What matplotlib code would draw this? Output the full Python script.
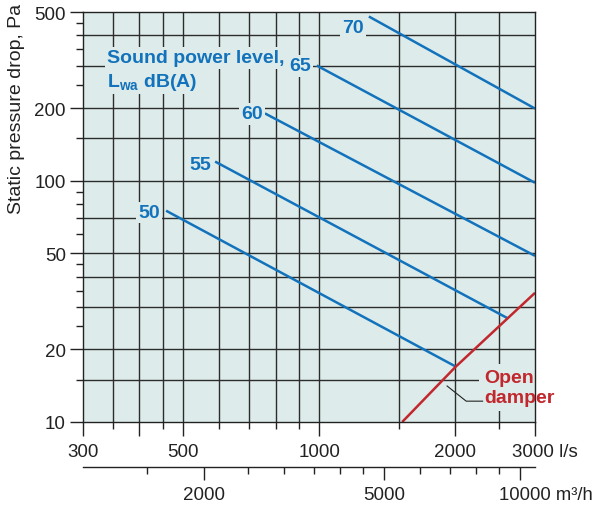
import matplotlib
matplotlib.use('Agg')
import matplotlib.pyplot as plt
from matplotlib.ticker import FixedLocator, FixedFormatter, NullFormatter
from matplotlib.patches import Rectangle

plt.rcParams['font.family'] = ['Liberation Sans', 'DejaVu Sans']
plt.rcParams['mathtext.fontset'] = 'custom'
plt.rcParams['mathtext.rm'] = 'Liberation Sans'
plt.rcParams['mathtext.bf'] = 'Liberation Sans:bold'
plt.rcParams['mathtext.it'] = 'Liberation Sans:italic'

# ---------------- data ----------------
sound_levels = [50, 55, 60, 65, 70]
sound_start_flow = [458, 588, 758, 987, 1287]      # l/s
sound_start_pa = [75.1, 120, 190, 300, 479]         # Pa
sound_end_flow = [2000, 2601, 3000, 3000, 3000]     # l/s
sound_end_pa = [17.0, 27.0, 48.8, 98, 199]          # Pa

damper_flow = [1525, 2000, 3000]                    # l/s
damper_pa = [10, 16.9, 34.3]                        # Pa

x_major = [300, 400, 500, 1000, 2000, 3000]
x_major_labels = ['300', '', '500', '1000', '2000', '']
x_last_label = '3000 l/s'
x_minor = [350, 450, 600, 700, 800, 900, 1500, 2500]
y_major = [10, 20, 50, 100, 200, 500]
y_major_labels = ['10', '20', '50', '100', '200', '500']
y_minor = [15, 25, 30, 35, 40, 45, 60, 70, 80, 90, 150, 250, 300, 350, 400, 450]
x_grid = [350, 400, 450, 500, 600, 700, 800, 900, 1000, 1500, 2000, 2500]
y_grid = [15, 20, 30, 40, 50, 70, 100, 150, 200, 300, 400]
m3h_major = [2000, 5000, 10000]
m3h_major_labels = ['2000', '5000', '']
m3h_last_label = '10000 m³/h'
m3h_minor = [1500, 2500, 3000, 3500, 4000, 4500, 6000, 7000, 8000, 9000]

# label placement (x in l/s, baseline y in Pa)
level_label_x = [420, 545, 710, 906, 1188]
level_label_y = [70.6, 112, 181, 287, 414]

# ---------------- style ----------------
BG = '#ddecea'
BLUE = '#1272bb'
RED = '#c1272d'
GRID = '#2c2c2c'
FS = 13.5

fig = plt.figure(figsize=(5.95, 5.06), dpi=100)
ax = fig.add_axes([83/595, 83/506, 452/595, 410/506])
ax.set_xscale('log')
ax.set_yscale('log')
ax.set_xlim(300, 3000)
ax.set_ylim(10, 500)
ax.set_facecolor(BG)

for gx in x_grid:
    ax.axvline(gx, color=GRID, lw=1.0, zorder=0.5)
for gy in y_grid:
    ax.axhline(gy, color=GRID, lw=1.0, zorder=0.5)

for s in ax.spines.values():
    s.set_color('#222222')
    s.set_linewidth(1.0)

ax.xaxis.set_major_locator(FixedLocator(x_major))
ax.xaxis.set_major_formatter(FixedFormatter(x_major_labels))
ax.xaxis.set_minor_locator(FixedLocator(x_minor))
ax.xaxis.set_minor_formatter(NullFormatter())
ax.yaxis.set_major_locator(FixedLocator(y_major))
ax.yaxis.set_major_formatter(FixedFormatter(y_major_labels))
ax.yaxis.set_minor_locator(FixedLocator(y_minor))
ax.yaxis.set_minor_formatter(NullFormatter())

ax.tick_params(axis='x', which='major', direction='out', length=10, width=1.0,
               pad=5, labelsize=FS, color='#222222', labelcolor='#222222')
ax.tick_params(axis='x', which='minor', direction='out', length=5, width=1.0,
               color='#222222')
ax.tick_params(axis='y', which='major', direction='out', length=9.4, width=1.0,
               pad=3, labelsize=FS, color='#222222', labelcolor='#222222')
ax.tick_params(axis='y', which='minor', direction='out', length=4.8, width=1.0,
               color='#222222')
ax.tick_params(top=False, right=False, which='both')

# secondary axis (m3/h)
sec = ax.secondary_xaxis(-45/410, functions=(lambda q: q * 3.6, lambda q: q / 3.6))
sec.xaxis.set_major_locator(FixedLocator(m3h_major))
sec.xaxis.set_major_formatter(FixedFormatter(m3h_major_labels))
sec.xaxis.set_minor_locator(FixedLocator(m3h_minor))
sec.xaxis.set_minor_formatter(NullFormatter())
sec.tick_params(axis='x', which='major', direction='out', length=9.4, width=1.0,
                pad=4.5, labelsize=FS, color='#222222', labelcolor='#222222')
sec.tick_params(axis='x', which='minor', direction='out', length=5, width=1.0,
                color='#222222')
sec.spines['bottom'].set_color('#222222')
sec.spines['bottom'].set_linewidth(1.0)

# last tick labels with units
ax.text((512-83)/452, (423-456.7)/410, x_last_label, transform=ax.transAxes,
        fontsize=FS, ha='left', va='baseline', clip_on=False, color='#222222')
ax.text((499-83)/452, (423-500.5)/410, m3h_last_label, transform=ax.transAxes,
        fontsize=13.3, ha='left', va='baseline', clip_on=False, color='#222222')

# sound power lines
box = dict(boxstyle='square,pad=0.12', fc=BG, ec='none')
for lvl, x0, y0, x1, y1, lx, ly in zip(sound_levels, sound_start_flow, sound_start_pa,
                                       sound_end_flow, sound_end_pa,
                                       level_label_x, level_label_y):
    ax.plot([x0, x1], [y0, y1], color=BLUE, lw=1.8, zorder=2, solid_capstyle='butt')
    ax.text(lx, ly, str(lvl), color=BLUE, fontsize=14, fontweight='bold',
            ha='center', va='baseline', bbox=box, zorder=3)

ax.text(339, 309, 'Sound power level,', color=BLUE, fontsize=14, fontweight='bold',
        ha='left', va='baseline', bbox=box, zorder=3)
ax.text(339, 247, r'$\mathbf{L_{wa}}$ dB(A)', color=BLUE, fontsize=14,
        fontweight='bold', ha='left', va='baseline', bbox=box, zorder=3)

# open damper
ax.plot(damper_flow, damper_pa, color=RED, lw=1.8, zorder=2, solid_capstyle='butt')
ax.add_patch(Rectangle((2253, 11.1), 3000 - 2253, 17.4 - 11.1, fc=BG, ec='none',
                       zorder=1))
ax.plot([2297, 2113, 1917], [12.2, 12.2, 14.1], color='#222222', lw=0.8, zorder=2)
ax.text(2322, 14.6, 'Open', color=RED, fontsize=14, fontweight='bold',
        ha='left', va='baseline', zorder=3, clip_on=False)
ax.text(2322, 12.07, 'damper', color=RED, fontsize=14, fontweight='bold',
        ha='left', va='baseline', zorder=3, clip_on=False)

fig.text(16.5/595, 1 - 109/506, 'Static pressure drop, Pa', rotation=90,
         ha='center', va='center', fontsize=14, color='#222222')

fig.savefig('out.png', dpi=100)
